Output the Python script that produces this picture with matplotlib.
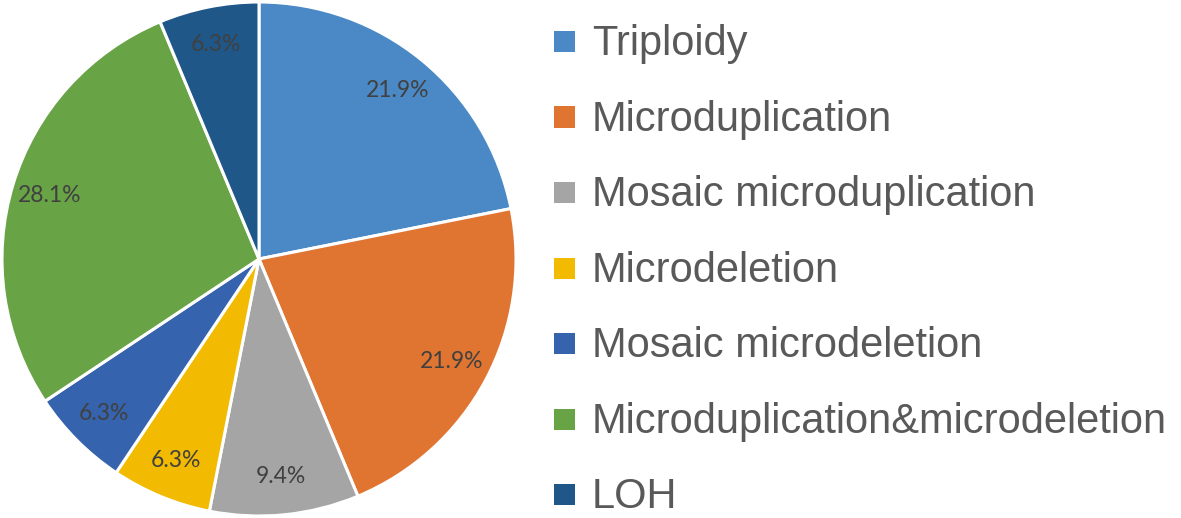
import matplotlib
matplotlib.use("Agg")
import matplotlib.pyplot as plt
from matplotlib.patches import Rectangle

categories = ["Triploidy", "Microduplication", "Mosaic microduplication", "Microdeletion",
              "Mosaic microdeletion", "Microduplication&microdeletion", "LOH"]
values = [21.9, 21.9, 9.4, 6.3, 6.3, 28.1, 6.3]
colors = ["#4A89C5", "#E07532", "#A5A5A5", "#F2BA00", "#3563AD", "#68A346", "#1F5789"]

W, H = 1181, 518
fig = plt.figure(figsize=(W / 100, H / 100), dpi=100)
fig.patch.set_facecolor("white")

ax = fig.add_axes([2 / W, 2 / H, 514 / W, 514 / H])
wedges, texts, autotexts = ax.pie(
    values, colors=colors, startangle=90, counterclock=False,
    radius=1.0, autopct="%1.1f%%", pctdistance=0.85,
    wedgeprops=dict(edgecolor="white", linewidth=2.2),
    textprops=dict(fontsize=16.5, color="#404040", family="Lato"))
for t, v in zip(autotexts, values):
    t.set_text(f"{v:.1f}%")
ax.set_xlim(-1.0, 1.0)
ax.set_ylim(-1.0, 1.0)
ax.set_aspect("equal")
ax.axis("off")

# legend
sq = 21
x_sq = 554
x_txt = 592
y0 = 41.5
dy = 75.5
for i, (lab, col) in enumerate(zip(categories, colors)):
    yc = y0 + i * dy
    fig.patches.append(Rectangle((x_sq / W, 1 - (yc + sq / 2) / H), sq / W, sq / H,
                                 transform=fig.transFigure, facecolor=col, edgecolor="none"))
    fig.text(x_txt / W, 1 - (yc + 13.5) / H, lab, fontsize=30, color="#595959",
             family="Liberation Sans", va="baseline", ha="left")

fig.savefig("out.png", dpi=100, facecolor="white")
